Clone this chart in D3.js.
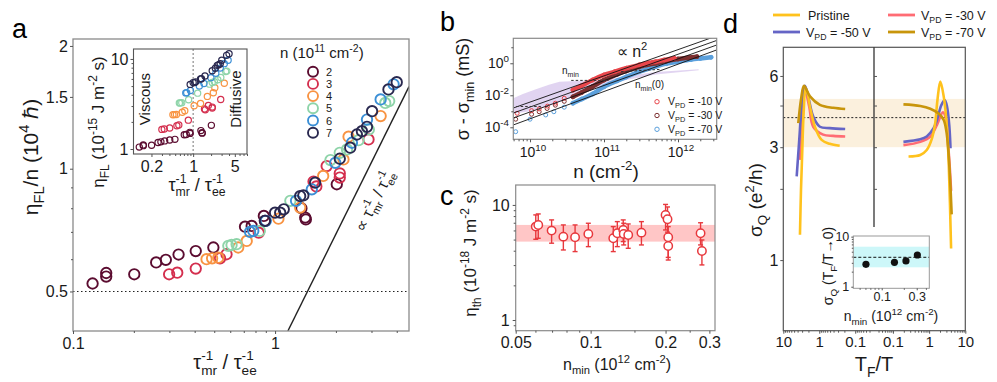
<!DOCTYPE html>
<html><head><meta charset="utf-8">
<script src="https://cdn.jsdelivr.net/npm/d3@7/dist/d3.min.js"></script>
<style>html,body{margin:0;padding:0;background:#fff}svg{display:block}</style>
</head><body><svg id="fig" width="997" height="382"></svg>
<script>
// ================= DATA =================
// Panel a: eta_FL/n (10^4 hbar) vs tau_mr^-1/tau_ee^-1, series n = 2..7 (10^11 cm^-2)
const aLabels = ["2","3","4","5","6","7"];
const aX2 = [0.125,0.146,0.146,0.201,0.258,0.288,0.333,0.405,0.495,0.71,0.766,0.88,0.89,1.35,1.41,1.42,2.02];
const aY2 = [0.523,0.555,0.544,0.551,0.589,0.598,0.616,0.628,0.641,0.721,0.724,0.766,0.745,0.80,0.759,0.751,0.916];
const aX3 = [0.299,0.328,0.405,0.534,0.575,0.83,1.55,1.60,1.80,2.09,2.09,2.90];
const aY3 = [0.551,0.556,0.569,0.603,0.617,0.697,0.93,0.905,1.015,0.974,0.951,1.18];
const aX4 = [0.458,0.488,0.524,0.657,0.724,1.039,1.331,1.73,2.18,2.31,3.33];
const aY4 = [0.600,0.603,0.605,0.641,0.665,0.754,0.803,0.960,1.054,1.198,1.346];
const aX5 = [0.587,0.609,0.645,0.84,1.19,1.88,2.09,2.27,2.59,2.91,3.51,3.67];
const aY5 = [0.647,0.650,0.653,0.704,0.834,1.05,1.094,1.115,1.175,1.248,1.45,1.465];
const aX6 = [0.752,0.780,0.90,1.27,1.52,1.986,2.40,2.85,3.33,3.86];
const aY6 = [0.700,0.704,0.745,0.834,0.890,1.034,1.158,1.320,1.479,1.61];
const aX7 = [0.892,1.0,1.06,1.104,1.331,1.38,1.578,2.09,2.355,2.54,2.69,2.85,3.02,3.64,4.0];
const aY7 = [0.745,0.780,0.780,0.795,0.857,0.86,0.924,1.058,1.126,1.213,1.236,1.267,1.384,1.565,1.63];
// inset a: eta_FL (10^-15 J m^-2 s), same x values
const aI2 = [1.05,1.11,1.09,1.10,1.18,1.20,1.23,1.26,1.28,1.44,1.45,1.53,1.49,1.60,1.52,1.50,1.83];
const aI3 = [1.65,1.67,1.71,1.81,1.85,2.09,2.79,2.72,3.05,2.92,2.85,3.54];
const aI4 = [2.40,2.41,2.42,2.56,2.66,3.02,3.21,3.84,4.22,4.79,5.38];
const aI5 = [3.24,3.25,3.27,3.52,4.17,5.25,5.47,5.58,5.88,6.24,7.25,7.33];
const aI6 = [4.20,4.22,4.47,5.00,5.34,6.20,6.95,7.92,8.87,9.66];
const aI7 = [5.22,5.46,5.46,5.57,6.00,6.02,6.47,7.41,7.88,8.49,8.65,8.87,9.69,10.96,11.41];
const aGuideX = [1.157,4.6];           // "∝ tau_mr^-1/tau_ee^-1" guide
const aGuideY = [0.4,1.59];
const aDotY = 0.5;

// Panel b: sigma - sigma_min (mS) vs n (cm^-2)
const bLabels = ["-10","-30","-70"];
const bN10 = [6.7e9,1.05e10,1.33e10,1.72e10,2.2e10,2.9e10,3.8e10,5e10,7e10,1e11,1.4e11,2e11,3e11,4e11,5e11,6.5e11,8.9e11];
const bS10 = [7.5e-4,1.1e-3,1.4e-3,2.1e-3,3.2e-3,6.5e-3,0.021,0.04,0.09,0.186,0.3,0.49,0.8,1.05,1.26,1.6,2.05];
const bN30 = [6.4e9,1.05e10,1.33e10,1.7e10,2.2e10,2.9e10,3.8e10,5e10,7e10,1e11,1.5e11,2e11,3e11,5e11,7e11,1e12,1.4e12,1.8e12];
const bS30 = [3.2e-4,6.5e-4,9.4e-4,1.5e-3,2.4e-3,4.2e-3,0.008,0.015,0.035,0.09,0.2,0.33,0.6,1.0,1.4,1.85,2.3,2.6];
const bN70 = [6.4e9,1.0e10,1.63e10,2.1e10,2.9e10,3.8e10,5e10,7e10,1e11,1.5e11,2e11,3e11,5e11,7e11,1e12,1.5e12,2e12,2.8e12];
const bS70 = [5.3e-5,3.2e-4,5.9e-4,9.4e-4,1.8e-3,3.2e-3,5.8e-3,0.012,0.034,0.08,0.14,0.3,0.62,0.95,1.26,1.7,2.0,2.37];
const bFitN = [5.94e9,3.33e12];
const bFitS = [[1.6e-3,51],[7.8e-4,26.6],[3.8e-4,13.8],[1.4e-4,6.8]];
const bRegN = [5.94e9,8e9,1.2e10,1.8e10,2.5e10,5e10,1e11,2e11,5e11,1.9e12,1.9e12,5e11,2e11,1e11,5e10,2e10,1e10,5.94e9];
const bRegS = [6.5e-3,1.2e-2,2.4e-2,4.5e-2,7e-2,8e-2,9e-2,0.16,0.28,0.42,0.36,0.2,0.09,0.04,0.012,2.6e-3,1.0e-3,7e-4];
const bMinN = [3.6e10,1.15e11], bMinS = [0.085,0.085];
const bMin0N = [1.7e11,6e11], bMin0S = [0.3,0.42];
const bLowN = [6.5e9,1.4e10], bLowS = [2e-3,2e-3];

// Panel c: eta_th (10^-18 J m^-2 s) vs n_min (10^12 cm^-2)
const cX  = [0.0602,0.0616,0.0697,0.0777,0.0866,0.0979,0.1233,0.128,0.1352,0.1358,0.1416,0.160,0.200,0.2037,0.205,0.205,0.2765,0.280];
const cY  = [6.48,6.70,5.98,5.30,5.24,5.60,5.13,5.67,6.06,5.60,5.48,5.74,8.19,7.51,5.24,4.40,5.67,3.98];
const cLo = [5.03,5.13,4.65,4.06,3.93,4.34,3.93,4.34,4.80,4.49,4.20,4.49,6.06,5.80,3.32,3.50,4.49,3.01];
const cHi = [8.19,8.35,7.41,6.70,6.70,6.93,6.48,7.16,7.41,6.93,6.83,7.16,10.1,9.60,6.48,5.00,7.00,4.96];
const cBand = [4.8,6.7];

// Panel d: sigma_Q (e^2/h) vs T_F/T, left (hole) and right (electron) halves
const dLabels = ["Pristine","-30","-50","-70"];
const dT_PrisL = [3.44,3.22,2.96,2.72,2.4,2.15,1.81,1.32,0.86,0.51,0.27];
const dS_PrisL = [1.28,1.98,2.93,4.18,5.32,5.1,4.45,3.66,3.22,3.1,3.04];
const dT_PrisR = [0.27,0.57,0.86,1.2,1.47,1.7,2.04,2.53,3.1,3.5,4.05];
const dS_PrisR = [2.74,2.78,2.92,3.27,3.79,4.75,5.68,4.92,3.66,2.5,1.12];
const dT_30L = [3.44,3.0,2.5,1.9,1.47,0.78,0.41,0.19];
const dS_30L = [2.65,3.79,5.22,4.45,3.66,3.39,3.35,3.33];
const dT_30R = [0.195,0.57,1.08,1.65,2.4,3.0,3.3,3.7,4.05];
const dS_30R = [3.06,3.16,3.33,3.73,4.21,3.91,3.2,2.5,1.96];
const dT_50L = [4.24,3.6,3.08,2.5,2.02,1.47,0.96,0.51,0.19];
const dS_50L = [2.26,3.22,4.45,5.45,4.9,4.04,3.66,3.61,3.58];
const dT_50R = [0.195,0.57,0.86,1.33,1.65,2.17,2.69,3.13,3.63,3.9];
const dS_50R = [3.16,3.24,3.33,3.61,3.91,4.51,4.75,4.45,3.66,2.97];
const dT_70L = [3.83,3.2,2.66,1.81,0.96,0.41,0.19];
const dS_70L = [3.79,4.8,5.45,4.92,4.53,4.40,4.35];
const dT_70R = [0.195,0.57,1.08,1.83,2.53,3.0,3.4,3.8,4.2];
const dS_70R = [4.55,4.48,4.36,4.16,3.91,3.5,2.9,2.2,1.56];
const dBand = [3,4.8];
const dDotY = 4.0;
// inset d
const eX = [0.061,0.149,0.214,0.306];
const eY = [2.8,3.07,3.27,4.3];
const eBand = [2.44,6.3];
const eDashY = 3.87;

// ================= STYLE / HELPERS =================
const FONT = "'Liberation Sans', Arial, Helvetica, sans-serif";
const INK = "#1a1a1a";
const svg = d3.select("#fig").attr("font-family", FONT);

function rich(parent, x, y, segs, o = {}) {
  const size = o.size || 14;
  const t = parent.append("text").attr("x", x).attr("y", y).attr("font-size", size)
    .attr("text-anchor", o.anchor || "start").attr("fill", o.fill || INK).attr("font-family", FONT);
  if (o.rotate) t.attr("transform", `rotate(${o.rotate},${x},${y})`);
  let shift = 0;
  const put = (txt, target, fs, dx) => {
    const ts = t.append("tspan").text(txt).attr("dy", target - shift);
    if (fs) ts.attr("font-size", fs);
    if (dx) ts.attr("dx", dx);
    shift = target; return ts;
  };
  segs.forEach(s => {
    if (typeof s === "string") put(s, 0);
    else if (s.sup !== undefined && s.sub !== undefined) {
      const fs = size * 0.68;
      const a = put(s.sup, -size * 0.45, fs);
      const w = a.node().getComputedTextLength();
      put(s.sub, size * 0.3, fs, -w);
    } else if (s.sup !== undefined) put(s.sup, -size * 0.42, size * 0.7);
    else if (s.sub !== undefined) put(s.sub, size * 0.28, size * 0.7);
  });
  return t;
}
function axis(gen, tx, ty, fs, col) {
  const g = svg.append("g").attr("transform", `translate(${tx},${ty})`).call(gen);
  g.select(".domain").remove();
  g.selectAll(".tick line").attr("stroke", col || "#555");
  g.selectAll(".tick text").attr("font-size", fs || 15).attr("font-family", FONT).attr("fill", INK);
  return g;
}
function frame(x0, y0, x1, y1, col, w) {
  svg.append("rect").attr("x", x0).attr("y", y0).attr("width", x1 - x0).attr("height", y1 - y0)
    .attr("fill", "none").attr("stroke", col || "#808080").attr("stroke-width", w || 1.2);
}
function clip(id, x0, y0, x1, y1) {
  svg.append("clipPath").attr("id", id).append("rect").attr("x", x0).attr("y", y0)
    .attr("width", x1 - x0).attr("height", y1 - y0);
}
const fmt = d3.format("");

// ================= PANEL a =================
const A = {x0: 73, x1: 409, y0: 39, y1: 331};
const ax = d3.scaleLog().domain([0.1, 4.6]).range([A.x0, A.x1]);
const ay = d3.scaleLog().domain([0.4, 2.08]).range([A.y1, A.y0]);
const aColors = ["#5b0c30", "#d42f4e", "#f89342", "#8ed4a9", "#3b8fd6", "#29284f"];
const aXs = [aX2, aX3, aX4, aX5, aX6, aX7];
const aYs = [aY2, aY3, aY4, aY5, aY6, aY7];
const aIs = [aI2, aI3, aI4, aI5, aI6, aI7];
clip("clipA", A.x0, A.y0, A.x1, A.y1);
const gA = svg.append("g").attr("clip-path", "url(#clipA)");
gA.append("line").attr("x1", A.x0).attr("x2", A.x1).attr("y1", ay(aDotY)).attr("y2", ay(aDotY))
  .attr("stroke", "#222").attr("stroke-width", 1.2).attr("stroke-dasharray", "1.5,2.5");
gA.append("path").datum(aGuideX.map((v, i) => [v, aGuideY[i]]))
  .attr("d", d3.line().x(d => ax(d[0])).y(d => ay(d[1]))).attr("stroke", "#222").attr("stroke-width", 1.4).attr("fill", "none");
aXs.forEach((xs, k) => {
  gA.selectAll(null).data(xs.map((v, i) => [v, aYs[k][i]])).join("circle")
    .attr("cx", d => ax(d[0])).attr("cy", d => ay(d[1])).attr("r", 5.2)
    .attr("fill", "none").attr("stroke", aColors[k]).attr("stroke-width", 1.9);
});
frame(A.x0, A.y0, A.x1, A.y1, "#8a8a8a", 1.3);
axis(d3.axisLeft(ay).tickValues([0.5, 1, 1.5, 2]).tickFormat(fmt).tickSize(3).tickPadding(2), A.x0, 0, 16);
axis(d3.axisLeft(ay).tickValues([0.6, 0.7, 0.8, 0.9]).tickFormat("").tickSize(2), A.x0, 0);
axis(d3.axisBottom(ax).tickValues([0.1, 1]).tickFormat(fmt).tickSize(3).tickPadding(4), 0, A.y1, 16);
axis(d3.axisBottom(ax).tickValues([0.2, 0.3, 0.4, 0.5, 0.6, 0.7, 0.8, 0.9, 2, 3, 4]).tickFormat("").tickSize(2), 0, A.y1);
rich(svg, 38, 157, ["η", {sub: "FL"}, "/n   (10", {sup: "4"}, " ℏ)"], {size: 21, anchor: "middle", rotate: -90});
rich(svg, 225, 369, ["τ", {sup: "-1", sub: "mr"}, " / τ", {sup: "-1", sub: "ee"}], {size: 20, anchor: "middle"});
rich(svg, 379, 203, ["∝ τ", {sup: "-1", sub: "mr"}, " / τ", {sup: "-1", sub: "ee"}], {size: 16, anchor: "middle", rotate: -63});
// legend
rich(svg, 280, 58, ["n (10", {sup: "11"}, " cm", {sup: "-2"}, ")"], {size: 15});
aLabels.forEach((l, i) => {
  const yy = 71.7 + 12.2 * i;
  svg.append("circle").attr("cx", 313).attr("cy", yy).attr("r", 5).attr("fill", "none")
    .attr("stroke", aColors[i]).attr("stroke-width", 1.9);
  svg.append("text").attr("x", 326).attr("y", yy + 4).attr("font-size", 11).attr("fill", INK).text(l);
});
// inset a
const I = {x0: 133.5, x1: 247, y0: 49, y1: 154};
const ix = d3.scaleLog().domain([0.1, 8]).range([I.x0, I.x1]);
const iy = d3.scaleLog().domain([0.88, 12.9]).range([I.y1, I.y0]);
svg.append("rect").attr("x", I.x0).attr("y", I.y0).attr("width", I.x1 - I.x0).attr("height", I.y1 - I.y0).attr("fill", "#fff");
svg.append("line").attr("x1", ix(1)).attr("x2", ix(1)).attr("y1", I.y0).attr("y2", I.y1)
  .attr("stroke", "#777").attr("stroke-width", 1).attr("stroke-dasharray", "2,2");
aXs.forEach((xs, k) => {
  svg.selectAll(null).data(xs.map((v, i) => [v, aIs[k][i]])).join("circle")
    .attr("cx", d => ix(d[0])).attr("cy", d => iy(d[1])).attr("r", 3.1)
    .attr("fill", "none").attr("stroke", aColors[k]).attr("stroke-width", 1.2);
});
frame(I.x0, I.y0, I.x1, I.y1, "#555", 1.1);
axis(d3.axisLeft(iy).tickValues([1, 10]).tickFormat(fmt).tickSize(3).tickPadding(2), I.x0, 0, 16);
axis(d3.axisLeft(iy).tickValues([2, 3, 4, 5, 6, 7, 8, 9]).tickFormat("").tickSize(2), I.x0, 0);
axis(d3.axisBottom(ix).tickValues([0.2, 1, 5]).tickFormat(fmt).tickSize(3).tickPadding(4), 0, I.y1, 16);
axis(d3.axisBottom(ix).tickValues([0.3, 0.4, 0.5, 0.6, 0.7, 0.8, 0.9, 2, 3, 4, 6, 7, 8]).tickFormat("").tickSize(2), 0, I.y1);
rich(svg, 150, 99, ["Viscous"], {size: 15, anchor: "middle", rotate: -90});
rich(svg, 241, 99, ["Diffusive"], {size: 15, anchor: "middle", rotate: -90});
rich(svg, 104, 122, ["η", {sub: "FL"}, " (10", {sup: "-15"}, " J m", {sup: "-2"}, " s)"], {size: 17, anchor: "middle", rotate: -90});
rich(svg, 197, 191, ["τ", {sup: "-1", sub: "mr"}, " / τ", {sup: "-1", sub: "ee"}], {size: 18, anchor: "middle"});

// ================= PANEL b =================
const B = {x0: 513.3, x1: 716.7, y0: 38.3, y1: 139.3};
const bx = d3.scaleLog().domain([Math.pow(10, 9.774), Math.pow(10, 12.523)]).range([B.x0, B.x1]);
const by = d3.scaleLog().domain([Math.pow(10, -4.75), Math.pow(10, 1.56)]).range([B.y1, B.y0]);
clip("clipB", B.x0, B.y0, B.x1, B.y1);
const gB = svg.append("g").attr("clip-path", "url(#clipB)");
gB.append("path").datum(bRegN.map((v, i) => [v, bRegS[i]]))
  .attr("d", d3.line().x(d => bx(d[0])).y(d => by(d[1])).curve(d3.curveLinearClosed))
  .attr("fill", "#dccdef").attr("opacity", 0.85);
const bCols = ["#e9464b", "#7d3030", "#5ba0dc"];
const bNs = [bN10, bN30, bN70], bSs = [bS10, bS30, bS70];
[2, 1, 0].forEach(k => {
  const pts = bNs[k].map((v, i) => [v, bSs[k][i]]);
  gB.append("path").datum(pts.filter(d => d[0] >= 3.8e10))
    .attr("d", d3.line().x(d => bx(d[0])).y(d => by(d[1])).curve(d3.curveMonotoneX))
    .attr("fill", "none").attr("stroke", bCols[k]).attr("stroke-width", 4.5).attr("stroke-linecap", "round");
  gB.selectAll(null).data(pts).join("circle").attr("cx", d => bx(d[0])).attr("cy", d => by(d[1]))
    .attr("r", 2).attr("fill", "none").attr("stroke", bCols[k]).attr("stroke-width", 1);
});
bFitS.forEach(s => {
  gB.append("line").attr("x1", bx(bFitN[0])).attr("y1", by(s[0])).attr("x2", bx(bFitN[1])).attr("y2", by(s[1]))
    .attr("stroke", "#111").attr("stroke-width", 0.9);
});
[[bMinN, bMinS], [bMin0N, bMin0S], [bLowN, bLowS]].forEach(([ns, ss]) => {
  gB.append("line").attr("x1", bx(ns[0])).attr("y1", by(ss[0])).attr("x2", bx(ns[1])).attr("y2", by(ss[1]))
    .attr("stroke", "#333").attr("stroke-width", 1).attr("stroke-dasharray", "2.5,2");
});
frame(B.x0, B.y0, B.x1, B.y1, "#8a8a8a", 1.2);
axis(d3.axisLeft(by).tickValues([1e-4, 1e-2, 1]).tickFormat("").tickSize(3), B.x0, 0);
axis(d3.axisLeft(by).tickValues([1e-3, 1e-1, 10]).tickFormat("").tickSize(2), B.x0, 0);
axis(d3.axisBottom(bx).tickValues([1e10, 1e11, 1e12]).tickFormat("").tickSize(3), 0, B.y1);
const bMinor = [];
[1e9, 1e10, 1e11, 1e12].forEach(d => { for (let m = 2; m <= 9; m++) { const v = d * m; if (v > bx.domain()[0] && v < bx.domain()[1]) bMinor.push(v); } });
axis(d3.axisBottom(bx).tickValues(bMinor).tickFormat("").tickSize(2), 0, B.y1);
[[1, "0"], [1e-2, "-2"], [1e-4, "-4"]].forEach(([v, e]) => rich(svg, 509, by(v) + 5, ["10", {sup: e}], {size: 14, anchor: "end"}));
[[1e10, "10"], [1e11, "11"], [1e12, "12"]].forEach(([v, e]) => rich(svg, bx(v) + 3, 157, ["10", {sup: e}], {size: 14, anchor: "middle"}));
rich(svg, 469, 89, ["σ - σ", {sub: "min"}, " (mS)"], {size: 18, anchor: "middle", rotate: -90});
rich(svg, 606, 178, ["n (cm", {sup: "-2"}, ")"], {size: 19, anchor: "middle"});
rich(svg, 632, 57, ["∝ n", {sup: "2"}], {size: 16, anchor: "middle"});
rich(svg, 562, 74, ["n", {sub: "min"}], {size: 10});
rich(svg, 635, 88, ["n", {sub: "min"}, "(0)"], {size: 10});
bLabels.forEach((l, i) => {
  const yy = 101.7 + 13.8 * i;
  svg.append("circle").attr("cx", 657).attr("cy", yy).attr("r", 2.2).attr("fill", "none").attr("stroke", bCols[i]).attr("stroke-width", 1);
  rich(svg, 668, yy + 3.6, ["V", {sub: "PD"}, " = " + l + " V"], {size: 10.5});
});

// ================= PANEL c =================
const C = {x0: 515.7, x1: 715, y0: 185, y1: 330.7};
const cx = d3.scaleLog().domain([0.05, 0.316]).range([C.x0, C.x1]);
const cy = d3.scaleLog().domain([0.807, 14.9]).range([C.y1, C.y0]);
svg.append("rect").attr("x", C.x0).attr("y", cy(cBand[1])).attr("width", C.x1 - C.x0)
  .attr("height", cy(cBand[0]) - cy(cBand[1])).attr("fill", "#ffbcbc").attr("opacity", 0.85);
const cCol = "#e8383d";
const cPts = cX.map((v, i) => ({x: v, y: cY[i], lo: cLo[i], hi: cHi[i]}));
const gC = svg.append("g");
gC.selectAll(null).data(cPts).join("line").attr("x1", d => cx(d.x)).attr("x2", d => cx(d.x))
  .attr("y1", d => cy(d.lo)).attr("y2", d => cy(d.hi)).attr("stroke", cCol).attr("stroke-width", 1.4);
["lo", "hi"].forEach(k => gC.selectAll(null).data(cPts).join("line")
  .attr("x1", d => cx(d.x) - 2.5).attr("x2", d => cx(d.x) + 2.5).attr("y1", d => cy(d[k])).attr("y2", d => cy(d[k]))
  .attr("stroke", cCol).attr("stroke-width", 1.4));
gC.selectAll(null).data(cPts).join("circle").attr("cx", d => cx(d.x)).attr("cy", d => cy(d.y)).attr("r", 4.2)
  .attr("fill", "#fff").attr("stroke", cCol).attr("stroke-width", 1.5);
frame(C.x0, C.y0, C.x1, C.y1, "#8a8a8a", 1.2);
axis(d3.axisLeft(cy).tickValues([1, 10]).tickFormat(fmt).tickSize(3).tickPadding(3), C.x0, 0, 16);
axis(d3.axisLeft(cy).tickValues([0.9, 2, 3, 4, 5, 6, 7, 8, 9]).tickFormat("").tickSize(2), C.x0, 0);
axis(d3.axisBottom(cx).tickValues([0.05, 0.1, 0.2, 0.3]).tickFormat(fmt).tickSize(3).tickPadding(3), 0, C.y1, 16);
axis(d3.axisBottom(cx).tickValues([0.06, 0.07, 0.08, 0.09, 0.15, 0.25]).tickFormat("").tickSize(2), 0, C.y1);
rich(svg, 476, 253, ["η", {sub: "th"}, " (10", {sup: "-18"}, " J m", {sup: "-2"}, " s)"], {size: 17, anchor: "middle", rotate: -90});
rich(svg, 617, 370, ["n", {sub: "min"}, " (10", {sup: "12"}, " cm", {sup: "-2"}, ")"], {size: 16, anchor: "middle"});

// ================= PANEL d =================
const D = {x0: 783.3, xm: 874, x1: 965.3, y0: 47.3, y1: 330.7};
const dxL = d3.scaleLog().domain([10, 0.03]).range([D.x0, D.xm]);
const dxR = d3.scaleLog().domain([0.03, 10]).range([D.xm, D.x1]);
const dy = d3.scaleLog().domain([0.503, 7.93]).range([D.y1, D.y0]);
svg.append("rect").attr("x", D.x0).attr("y", dy(dBand[1])).attr("width", D.x1 - D.x0)
  .attr("height", dy(dBand[0]) - dy(dBand[1])).attr("fill", "#fbf0dd");
svg.append("line").attr("x1", D.x0).attr("x2", D.x1).attr("y1", dy(dDotY)).attr("y2", dy(dDotY))
  .attr("stroke", "#222").attr("stroke-width", 1).attr("stroke-dasharray", "2,2");
clip("clipDL", D.x0, D.y0, D.xm, D.y1);
clip("clipDR", D.xm, D.y0, D.x1, D.y1);
const dCols = {"Pristine": "#ffc21d", "-30": "#ff6c74", "-50": "#6565c6", "-70": "#c8950b"};
const dCurves = [
  {k: "-30", L: [dT_30L, dS_30L], R: [dT_30R, dS_30R]},
  {k: "-50", L: [dT_50L, dS_50L], R: [dT_50R, dS_50R]},
  {k: "Pristine", L: [dT_PrisL, dS_PrisL], R: [dT_PrisR, dS_PrisR]},
  {k: "-70", L: [dT_70L, dS_70L], R: [dT_70R, dS_70R]}
];
const gDL = svg.append("g").attr("clip-path", "url(#clipDL)");
const gDR = svg.append("g").attr("clip-path", "url(#clipDR)");
dCurves.forEach(c => {
  [[gDL, dxL, c.L], [gDR, dxR, c.R]].forEach(([g, sx, arr]) => {
    g.append("path").datum(arr[0].map((t, i) => [t, arr[1][i]]))
      .attr("d", d3.line().x(d => sx(d[0])).y(d => dy(d[1])).curve(d3.curveCatmullRom.alpha(0.5)))
      .attr("fill", "none").attr("stroke", dCols[c.k]).attr("stroke-width", 2.6).attr("stroke-linejoin", "round");
  });
});
frame(D.x0, D.y0, D.x1, D.y1, "#555", 1.2);
svg.append("line").attr("x1", D.xm).attr("x2", D.xm).attr("y1", D.y0).attr("y2", 227).attr("stroke", "#333").attr("stroke-width", 1.3);
axis(d3.axisLeft(dy).tickValues([1, 3, 6]).tickFormat(fmt).tickSize(3).tickPadding(2), D.x0, 0, 16);
axis(d3.axisLeft(dy).tickValues([2, 4.5]).tickFormat("").tickSize(3), D.x0, 0);
axis(d3.axisRight(dy).tickValues([6, 4.5, 3, 2]).tickFormat("").tickSize(3), D.xm, 0);
const dMin = [];
[0.01, 0.1, 1].forEach(d => { for (let m = 2; m <= 9; m++) { const v = d * m; if (v > 0.031 && v < 9.9) dMin.push(v); } });
axis(d3.axisBottom(dxL).tickValues([10, 1, 0.1]).tickFormat(fmt).tickSize(3).tickPadding(3), 0, D.y1, 15);
axis(d3.axisBottom(dxR).tickValues([0.1, 1, 10]).tickFormat(fmt).tickSize(3).tickPadding(3), 0, D.y1, 15);
axis(d3.axisBottom(dxL).tickValues(dMin).tickFormat("").tickSize(2), 0, D.y1);
axis(d3.axisBottom(dxR).tickValues(dMin).tickFormat("").tickSize(2), 0, D.y1);
rich(svg, 762, 200, ["σ", {sub: "Q"}, " (e", {sup: "2"}, "/h)"], {size: 19, anchor: "middle", rotate: -90});
rich(svg, 874, 371, ["T", {sub: "F"}, "/T"], {size: 20, anchor: "middle"});
// legend d
const dLeg = [["Pristine", 773, 15], ["-50", 773, 32], ["-30", 888, 15], ["-70", 888, 32]];
dLeg.forEach(([k, x, y]) => {
  svg.append("line").attr("x1", x).attr("x2", x + 27).attr("y1", y).attr("y2", y).attr("stroke", dCols[k]).attr("stroke-width", 2.8);
  if (k === "Pristine") rich(svg, x + 35, y + 4.5, ["Pristine"], {size: 12.5});
  else rich(svg, x + 33, y + 4.5, ["V", {sub: "PD"}, " = " + k + " V"], {size: 12.5});
});
// inset d
const E = {x0: 853.3, x1: 929.3, y0: 236, y1: 288.3};
const ex = d3.scaleLog().domain([0.041, 0.445]).range([E.x0, E.x1]);
const ey = d3.scaleLog().domain([0.93, 10.3]).range([E.y1, E.y0]);
svg.append("rect").attr("x", E.x0).attr("y", E.y0).attr("width", E.x1 - E.x0).attr("height", E.y1 - E.y0).attr("fill", "#fff");
svg.append("rect").attr("x", E.x0).attr("y", ey(eBand[1])).attr("width", E.x1 - E.x0)
  .attr("height", ey(eBand[0]) - ey(eBand[1])).attr("fill", "#cdf7f9");
svg.append("line").attr("x1", E.x0).attr("x2", E.x1).attr("y1", ey(eDashY)).attr("y2", ey(eDashY))
  .attr("stroke", "#111").attr("stroke-width", 1).attr("stroke-dasharray", "3,2");
svg.selectAll(null).data(eX.map((v, i) => [v, eY[i]])).join("circle")
  .attr("cx", d => ex(d[0])).attr("cy", d => ey(d[1])).attr("r", 3.6).attr("fill", "#111");
frame(E.x0, E.y0, E.x1, E.y1, "#999", 1);
axis(d3.axisLeft(ey).tickValues([1, 10]).tickFormat(fmt).tickSize(2).tickPadding(2), E.x0, 0, 12.5);
axis(d3.axisLeft(ey).tickValues([2, 3, 4, 5, 6, 7, 8, 9]).tickFormat("").tickSize(1.5), E.x0, 0);
axis(d3.axisBottom(ex).tickValues([0.1, 0.3]).tickFormat(fmt).tickSize(2).tickPadding(2), 0, E.y1, 12.5);
axis(d3.axisBottom(ex).tickValues([0.05, 0.06, 0.07, 0.08, 0.09, 0.2, 0.4]).tickFormat("").tickSize(1.5), 0, E.y1);
rich(svg, 833, 266, ["σ", {sub: "Q"}, " (T", {sub: "F"}, "/T→0)"], {size: 14, anchor: "middle", rotate: -90});
rich(svg, 891, 321, ["n", {sub: "min"}, " (10", {sup: "12"}, " cm", {sup: "-2"}, ")"], {size: 14, anchor: "middle"});

// panel letters
[["a", 12, 38], ["b", 440, 31], ["c", 440, 205], ["d", 723, 33]].forEach(([t, x, y]) =>
  svg.append("text").attr("x", x).attr("y", y).attr("font-size", 27).attr("fill", "#000").text(t));
</script></body></html>
